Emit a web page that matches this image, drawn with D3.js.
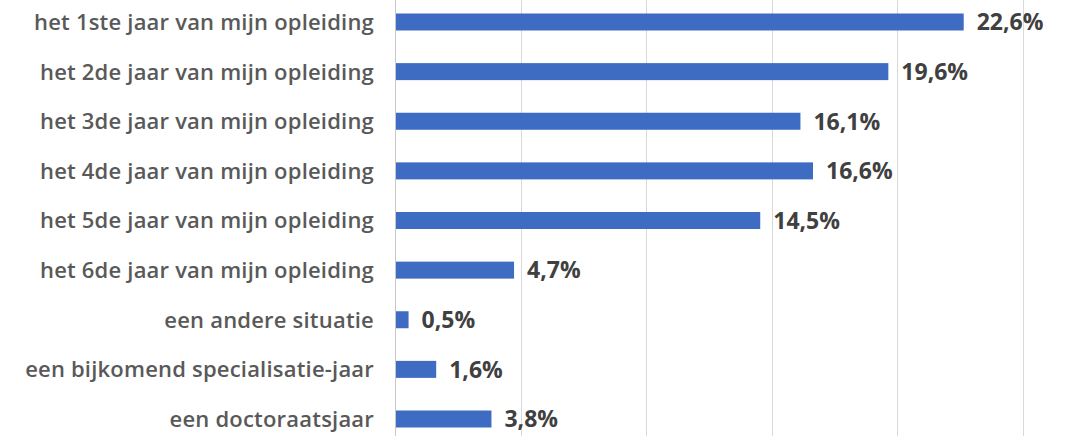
<!DOCTYPE html>
<html>
<head>
<meta charset="utf-8">
<script src="https://cdn.jsdelivr.net/npm/d3@7"></script>
<style>
  html, body { margin: 0; padding: 0; background: #fff; }
  svg { display: block; }
</style>
</head>
<body>
<svg id="chart" width="1074" height="436"></svg>
<script>
// Category labels, top to bottom
const categories = [
  "het 1ste jaar van mijn opleiding",
  "het 2de jaar van mijn opleiding",
  "het 3de jaar van mijn opleiding",
  "het 4de jaar van mijn opleiding",
  "het 5de jaar van mijn opleiding",
  "het 6de jaar van mijn opleiding",
  "een andere situatie",
  "een bijkomend specialisatie-jaar",
  "een doctoraatsjaar"
];
// Share of respondents, in percent
const values = [22.6, 19.6, 16.1, 16.6, 14.5, 4.7, 0.5, 1.6, 3.8];
// Vertical gridline positions, in percent
const gridTicks = [0, 5, 10, 15, 20, 25];

const svg = d3.select("#chart");
const W = 1074, H = 436;

const x = d3.scaleLinear().domain([0, 25]).range([395, 1023]);
const y = d3.scalePoint().domain(categories).range([22, 419]);
const barH = 17;

const fmt = v => d3.format(".1f")(v).replace(".", ",") + "%";

// gridlines
svg.append("g")
  .selectAll("line")
  .data(gridTicks)
  .join("line")
  .attr("x1", d => Math.round(x(d)) + 0.5)
  .attr("x2", d => Math.round(x(d)) + 0.5)
  .attr("y1", 0)
  .attr("y2", H)
  .attr("stroke", d => d === 0 ? "#c8c8c8" : "#d9d9d9")
  .attr("stroke-width", 1);

// bars
svg.append("g")
  .selectAll("rect")
  .data(values)
  .join("rect")
  .attr("x", x(0) + 1)
  .attr("y", (d, i) => y(categories[i]) - barH / 2)
  .attr("width", d => x(d) - x(0))
  .attr("height", barH)
  .attr("fill", "#3f6cc3");

// value labels
svg.append("g")
  .selectAll("text")
  .data(values)
  .join("text")
  .attr("x", d => x(d) + 14)
  .attr("y", (d, i) => y(categories[i]))
  .attr("dy", "0.36em")
  .attr("font-family", "'Open Sans', Lato, sans-serif")
  .attr("font-weight", 700)
  .attr("font-size", 23)
  .attr("fill", "#404040")
  .text(fmt);

// category axis labels
svg.append("g")
  .selectAll("text")
  .data(categories)
  .join("text")
  .attr("x", 374)
  .attr("y", d => y(d))
  .attr("dy", "0.36em")
  .attr("text-anchor", "end")
  .attr("font-family", "'Open Sans', Lato, sans-serif")
  .attr("font-weight", 600)
  .attr("font-size", 22)
  .attr("letter-spacing", 0.2)
  .attr("fill", "#595959")
  .text(d => d);
</script>
</body>
</html>
